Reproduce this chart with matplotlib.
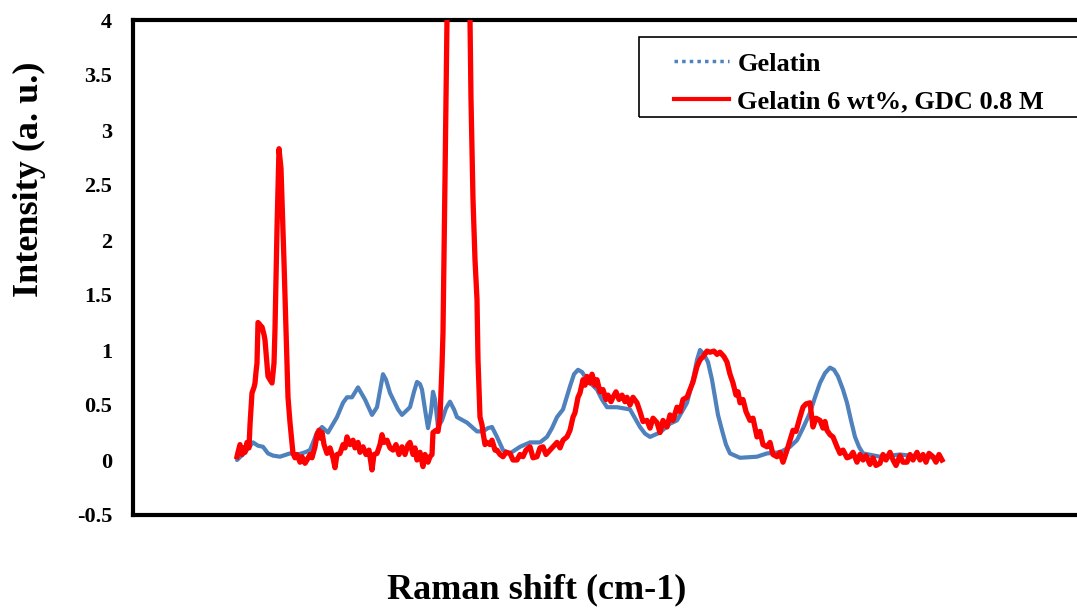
import matplotlib
matplotlib.use("Agg")
import matplotlib.pyplot as plt
from matplotlib.lines import Line2D
from matplotlib.patches import Rectangle

plt.rcParams['font.family'] = ['Liberation Serif', 'DejaVu Serif']
plt.rcParams['font.weight'] = 'bold'

# Gelatin (blue)
gel_x = [416, 448, 480, 500, 520, 540, 560, 588, 628, 660, 688, 708, 724, 736, 756, 780,
         816, 840, 856, 876, 900, 928, 956, 976, 992, 1000, 1012, 1028, 1060, 1076, 1108,
         1124, 1136, 1148, 1156, 1168, 1180, 1192, 1200, 1208, 1220, 1236, 1252, 1268, 1284,
         1296, 1336, 1376, 1400, 1420, 1436, 1456, 1480, 1508, 1548, 1588, 1628, 1656, 1676,
         1696, 1720, 1748, 1764, 1780, 1796, 1816, 1856, 1876, 1896, 1936, 1988, 2008, 2028,
         2048, 2068, 2108, 2148, 2176, 2216, 2240, 2256, 2268, 2284, 2300, 2316, 2328, 2340,
         2356, 2372, 2388, 2428, 2496, 2536, 2588, 2628, 2656, 2680, 2708, 2728, 2748, 2768,
         2788, 2804, 2820, 2840, 2856, 2872, 2888, 2904, 2920, 2988, 3068, 3148, 3228]
gel_y = [0.00, 0.07, 0.16, 0.13, 0.12, 0.06, 0.04, 0.03, 0.06, 0.05, 0.07, 0.09, 0.18, 0.25, 0.30, 0.25,
         0.39, 0.52, 0.57, 0.57, 0.66, 0.55, 0.41, 0.48, 0.68, 0.78, 0.73, 0.61, 0.46, 0.41, 0.48,
         0.62, 0.71, 0.69, 0.64, 0.46, 0.29, 0.44, 0.62, 0.55, 0.30, 0.36, 0.47, 0.53, 0.46,
         0.39, 0.34, 0.26, 0.26, 0.29, 0.30, 0.21, 0.09, 0.06, 0.12, 0.16, 0.16, 0.21, 0.29,
         0.39, 0.46, 0.67, 0.78, 0.82, 0.80, 0.73, 0.64, 0.55, 0.48, 0.48, 0.46, 0.38, 0.30,
         0.24, 0.21, 0.25, 0.33, 0.36, 0.52, 0.73, 0.91, 1.00, 0.96, 0.89, 0.73, 0.57, 0.41,
         0.27, 0.14, 0.06, 0.02, 0.03, 0.06, 0.07, 0.12, 0.18, 0.29, 0.43, 0.57, 0.70, 0.79,
         0.84, 0.82, 0.76, 0.64, 0.52, 0.36, 0.21, 0.12, 0.06, 0.03, 0.05, 0.03, 0.02]

# Gelatin 6 wt%, GDC 0.8 M (red)
gdc_x = [416, 420, 428, 436, 444, 448, 456, 464, 468, 476, 484, 488, 492, 496, 500, 508, 512, 516,
         524, 528, 540, 548, 556, 564, 568, 576, 584, 592, 600, 604, 612, 620, 628, 640, 648, 656,
         668, 676, 688, 696, 708, 716, 728, 736, 744, 748, 756, 764, 776, 788, 800, 808, 816, 828,
         840, 848, 856, 868, 880, 888, 900, 908, 920, 932, 944, 956, 964, 976, 988, 996, 1004,
         1016, 1028, 1040, 1052, 1064, 1076, 1088, 1100, 1108, 1120, 1128, 1136, 1148, 1160, 1168,
         1180, 1188, 1196, 1200, 1212, 1220, 1228, 1236, 1240, 1244, 1248, 1252, 1256, 1268, 1300,
         1336, 1348, 1352, 1360, 1368, 1376, 1380, 1388, 1396, 1400, 1408, 1416, 1428, 1436, 1448,
         1456, 1468, 1480, 1492, 1508, 1520, 1536, 1548, 1560, 1572, 1588, 1600, 1616, 1628, 1640,
         1652, 1668, 1680, 1696, 1708, 1720, 1736, 1748, 1760, 1768, 1780, 1788, 1800, 1808, 1816,
         1828, 1836, 1848, 1856, 1868, 1880, 1892, 1900, 1912, 1920, 1932, 1944, 1956, 1968, 1976,
         1988, 2000, 2016, 2028, 2040, 2056, 2068, 2080, 2096, 2108, 2120, 2136, 2148, 2160, 2176,
         2188, 2200, 2216, 2228, 2240, 2256, 2268, 2280, 2296, 2308, 2324, 2336, 2348, 2364, 2376,
         2388, 2400, 2412, 2420, 2428, 2440, 2452, 2468, 2480, 2496, 2508, 2520, 2536, 2548, 2560,
         2576, 2588, 2600, 2616, 2628, 2640, 2652, 2668, 2680, 2692, 2708, 2720, 2732, 2748, 2760,
         2768, 2776, 2788, 2800, 2816, 2828, 2840, 2856, 2868, 2880, 2896, 2908, 2920, 2932, 2948,
         2960, 2972, 2988, 3000, 3012, 3028, 3040, 3052, 3068, 3080, 3096, 3108, 3120, 3136, 3148,
         3160, 3172, 3184, 3200, 3212, 3224, 3236]
gdc_y = [0.03, 0.07, 0.14, 0.05, 0.11, 0.07, 0.16, 0.11, 0.32, 0.61, 0.66, 0.70, 0.80, 0.88, 1.25, 1.23, 1.19, 1.21,
         1.14, 1.09, 0.76, 0.73, 0.70, 0.88, 1.19, 2.10, 2.83, 2.65, 2.10, 1.80, 1.19, 0.57, 0.34, 0.06, 0.02, 0.05,
         -0.02, 0.03, -0.03, 0.00, 0.05, 0.02, 0.12, 0.23, 0.27, 0.20, 0.25, 0.14, 0.06, 0.11, 0.02, -0.07, 0.05, 0.06,
         0.14, 0.11, 0.21, 0.14, 0.18, 0.11, 0.16, 0.07, 0.12, 0.05, 0.09, -0.09, 0.05, 0.06, 0.14, 0.23, 0.16,
         0.18, 0.11, 0.09, 0.14, 0.05, 0.12, 0.05, 0.14, 0.16, 0.05, 0.11, 0.00, 0.07, -0.06, 0.05,
         -0.02, 0.03, 0.05, 0.25, 0.27, 0.26, 0.39, 0.85, 1.16, 1.82, 2.55, 3.28, 4.01, 4.90, 6.00,
         5.00, 4.01, 3.28, 2.37, 1.82, 1.46, 0.91, 0.39, 0.32, 0.25, 0.14, 0.16, 0.14, 0.18, 0.09,
         0.09, 0.05, 0.03, 0.07, 0.06, 0.00, 0.00, 0.05, 0.03, 0.09, 0.12, 0.02, 0.03, 0.11, 0.12,
         0.05, 0.09, 0.12, 0.16, 0.11, 0.18, 0.21, 0.27, 0.39, 0.43, 0.57, 0.61, 0.73, 0.68, 0.76,
         0.70, 0.78, 0.68, 0.73, 0.62, 0.64, 0.55, 0.59, 0.53, 0.57, 0.62, 0.55, 0.59, 0.53, 0.57,
         0.50, 0.57, 0.52, 0.44, 0.35, 0.36, 0.29, 0.38, 0.34, 0.25, 0.36, 0.30, 0.41, 0.36, 0.48,
         0.44, 0.55, 0.57, 0.64, 0.71, 0.85, 0.91, 0.94, 0.99, 0.98, 0.99, 0.96, 0.98, 0.94, 0.89,
         0.78, 0.70, 0.59, 0.62, 0.52, 0.55, 0.44, 0.36, 0.38, 0.21, 0.26, 0.14, 0.12, 0.16, 0.05,
         0.03, 0.07, -0.02, 0.09, 0.18, 0.27, 0.26, 0.39, 0.48, 0.51, 0.52, 0.30, 0.38, 0.36, 0.29,
         0.35, 0.27, 0.23, 0.21, 0.12, 0.06, 0.09, 0.02, 0.03, 0.07, -0.02, 0.05, 0.00, 0.04, -0.04,
         0.02, -0.05, -0.03, 0.05, 0.00, 0.07, 0.00, -0.05, 0.04, -0.02, -0.02, 0.05, 0.00, 0.07, 0.00,
         0.05, -0.02, 0.06, 0.03, -0.02, 0.05, 0.00]

yticks = [-0.5, 0, 0.5, 1, 1.5, 2, 2.5, 3, 3.5, 4]
ytick_labels = ['-0.5', '0', '0.5', '1', '1.5', '2', '2.5', '3', '3.5', '4']

blue = '#4F81BD'
red = '#FF0000'

fig = plt.figure(figsize=(10.77, 6.15), dpi=100)
# axes run past the right edge of the picture, as in the original
ax = fig.add_axes([133 / 1077, 1 - 515 / 615, 1000 / 1077, 495 / 615])

ax.plot(gel_x, gel_y, color=blue, lw=3.0, solid_capstyle='round', zorder=2)
ax.plot(gdc_x, gdc_y, color=red, lw=3.8, zorder=3)

ax.set_xlim(0, 4000)
ax.set_ylim(-0.5, 4)
ax.set_yticks(yticks)
ax.set_yticklabels(ytick_labels, fontsize=16, fontweight='bold')
ax.set_xticks([])
ax.tick_params(axis='y', length=0, pad=15)

for s in ['left', 'top', 'bottom', 'right']:
    ax.spines[s].set_linewidth(3)
    ax.spines[s].set_color('black')

ax.set_ylabel('Intensity (a. u.)', fontsize=26, fontweight='bold')
ax.yaxis.set_label_coords(-0.087, 0.679)
ax.set_xlabel('Raman shift (cm-1)', fontsize=26, fontweight='bold')
ax.xaxis.set_label_coords(0.404, -0.118)

# legend frame
ax.add_patch(Rectangle((0.506, 0.804), 0.7, 0.1616, transform=ax.transAxes,
                       fill=False, edgecolor='black', lw=1.2, clip_on=False, zorder=5))
handles = [Line2D([], [], color=blue, lw=2.5, linestyle=(0, (1, 1.2))),
           Line2D([], [], color=red, lw=3.0)]
ax.legend(handles, ['Gelatin', 'Gelatin 6 wt%, GDC 0.8 M'], loc='upper left',
          bbox_to_anchor=(0.541, 0.935), frameon=False, borderpad=0, borderaxespad=0,
          handlelength=2.1, handletextpad=0.3, labelspacing=0.53,
          prop={'family': 'Liberation Serif', 'weight': 'bold', 'size': 19})

fig.savefig('out.png', dpi=100)
